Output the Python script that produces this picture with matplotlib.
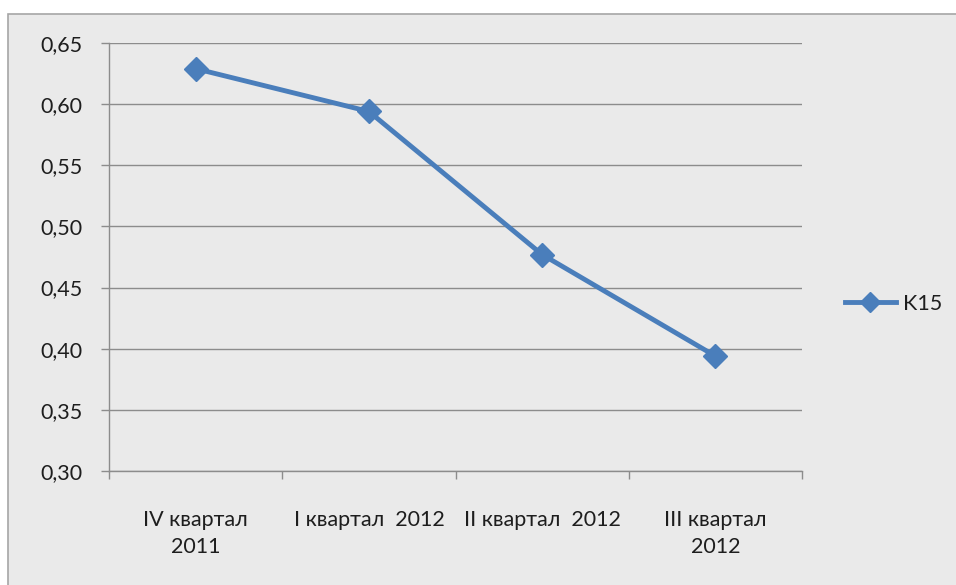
import matplotlib
matplotlib.use("Agg")
import matplotlib.pyplot as plt
from matplotlib.patches import Rectangle
from matplotlib.ticker import FixedLocator, FuncFormatter

plt.rcParams['font.family'] = ['Lato', 'DejaVu Sans']

categories = ["IV квартал\n2011", "I квартал  2012", "II квартал  2012", "III квартал\n2012"]
values = [0.629, 0.594, 0.477, 0.394]
series_name = "K15"
y_ticks = [0.30, 0.35, 0.40, 0.45, 0.50, 0.55, 0.60, 0.65]

line_color = "#4A7EBB"
grid_color = "#8C8C8C"
bg_color = "#EAEAEA"
text_color = "#1E1E1E"
font_size = 15.5

fig = plt.figure(figsize=(9.56, 5.85), dpi=100, facecolor="white")

# chart area panel with a thin border, running off the right and bottom edges
fig.patches.append(Rectangle((8 / 956, -0.05), 1.1, 1.05 - 14 / 585,
                             transform=fig.transFigure, facecolor=bg_color,
                             edgecolor="#A6A6A6", linewidth=1.2, zorder=-10))

ax = fig.add_axes([109 / 956, 1 - 471 / 585, (802 - 109) / 956, (471 - 43) / 585])
ax.set_facecolor("none")
ax.set_zorder(1)

x = list(range(len(categories)))
ax.plot(x, values, color=line_color, linewidth=3.5, marker="D", markersize=12.5,
        markerfacecolor=line_color, markeredgecolor=line_color, label=series_name,
        solid_joinstyle="round", zorder=3)

ax.set_xlim(-0.5, len(categories) - 0.5)
ax.set_ylim(0.30, 0.65)
ax.set_yticks(y_ticks)
ax.yaxis.set_major_formatter(FuncFormatter(lambda v, p: f"{v:.2f}".replace(".", ",")))

ax.set_xticks(x)
ax.set_xticklabels(categories, fontsize=font_size, color=text_color, linespacing=1.45, va="top")
ax.xaxis.set_minor_locator(FixedLocator([i - 0.5 for i in range(len(categories) + 1)]))
ax.tick_params(axis="x", which="major", length=0, pad=28)
ax.tick_params(axis="x", which="minor", length=6, width=1, color=grid_color, direction="out")
ax.tick_params(axis="y", which="major", length=6, width=1, color=grid_color, direction="out",
               labelsize=font_size, labelcolor=text_color, pad=13)

ax.grid(axis="y", color=grid_color, linewidth=1)
ax.set_axisbelow(True)
for side in ("top", "right"):
    ax.spines[side].set_visible(False)
for side in ("left", "bottom"):
    ax.spines[side].set_color(grid_color)
    ax.spines[side].set_linewidth(1)

leg = fig.legend(loc="center left", bbox_to_anchor=(836 / 956, 1 - 304 / 585), frameon=False,
                 fontsize=font_size, handlelength=2.4, handletextpad=0.3, markerscale=0.8,
                 labelcolor=text_color, borderaxespad=0)
leg.set_zorder(2)

fig.savefig("out.png", dpi=100, facecolor="white")
